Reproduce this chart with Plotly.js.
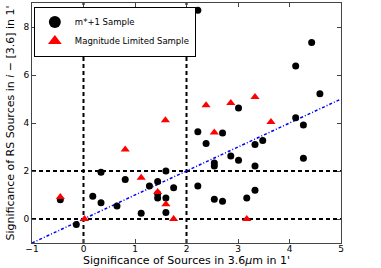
<!DOCTYPE html>
<html><head><meta charset="utf-8">
<script src="https://cdn.plot.ly/plotly-3.0.1.min.js"></script>
<style>html,body{margin:0;padding:0;background:#fff}#c{width:381px;height:268px}</style>
</head><body><div id="c"></div>
<script>
const circX = [-0.45,-0.14,0.18,0.34,0.34,0.65,0.81,1.12,1.28,1.44,1.44,1.44,1.6,1.6,1.6,1.75,2.22,2.22,2.22,2.38,2.54,2.54,2.54,2.7,2.7,2.86,3.01,3.01,3.17,3.33,3.33,3.33,3.48,4.12,4.12,4.27,4.27,4.43,4.59];
const circY = [0.8,-0.23,0.95,1.95,0.68,0.54,1.65,0.24,1.38,1.56,1.05,0.88,2.0,0.88,0.27,1.3,8.7,3.64,1.38,3.15,2.33,2.21,0.82,3.58,0.74,2.62,4.62,2.45,0.88,3.1,2.21,1.2,3.27,6.38,4.22,3.92,2.53,7.35,5.22];
const triX = [-0.45,0.02,0.81,1.12,1.44,1.59,1.6,1.75,2.38,2.54,2.86,3.17,3.33,3.64];
const triY = [0.92,0.0,2.9,1.72,1.13,4.11,0.61,0.0,4.74,3.6,4.83,0.0,5.08,4.04];
const oneToOneX = [-1,5];
const oneToOneY = [-1,5];
const cutX = [0,2];
const cutY = [0,2];
const xTicks = [-1,0,1,2,3,4,5];
const yTicks = [0,2,4,6,8];

const traces = [
  {x: oneToOneX, y: oneToOneY, mode:'lines', showlegend:false, hoverinfo:'skip',
   line:{color:'#0000ff', width:1.5, dash:'3px,2px,1px,2px'}},
  {x: circX, y: circY, mode:'markers', name:'m*+1 Sample',
   marker:{symbol:'circle', size:7, color:'#000'}},
  {x: triX, y: triY, mode:'markers', name:'Magnitude Limited Sample',
   marker:{symbol:'triangle-up', size:8, color:'#ff0000'}}
];
const shapes = [];
cutX.forEach(v => shapes.push({type:'line', xref:'x', yref:'paper', x0:v, x1:v, y0:0, y1:1, layer:'below',
  line:{color:'#000', width:2, dash:'4px,3px'}}));
cutY.forEach(v => shapes.push({type:'line', xref:'paper', yref:'y', x0:0, x1:1, y0:v, y1:v, layer:'below',
  line:{color:'#000', width:2, dash:'4px,3px'}}));

const ax = {showgrid:false, zeroline:false, showline:true, mirror:'ticks', linecolor:'#444', linewidth:1,
  ticks:'inside', ticklen:4, tickcolor:'#444', tickfont:{family:'DejaVu Sans', size:9, color:'#000'}};
const layout = {
  width:381, height:268, margin:{l:32, r:40, t:3, b:25},
  paper_bgcolor:'#fff', plot_bgcolor:'#fff',
  font:{family:'DejaVu Sans', color:'#000'},
  xaxis: Object.assign({}, ax, {range:[-1,5], tickvals:xTicks, ticklabelstandoff:-3,
    ticktext:xTicks.map(v=>v<0?'\u2212'+Math.abs(v):String(v)),
    title:{text:"Significance of Sources in 3.6<i>\u03bc</i>m in 1'", font:{size:11}, standoff:0}}),
  yaxis: Object.assign({}, ax, {range:[-1,9], tickvals:yTicks,
    title:{text:"Significance of RS Sources in <i>i</i> \u2212 [3.6] in 1'", font:{size:11}, standoff:6}}),
  shapes: shapes,
  showlegend:true,
  legend:{x:0.006, y:0.985, xanchor:'left', yanchor:'top', bgcolor:'#fff', bordercolor:'#000', borderwidth:1,
    font:{family:'DejaVu Sans', size:8.5}, tracegroupgap:0, itemwidth:30, itemsizing:'constant'}
};
Plotly.newPlot('c', traces, layout, {staticPlot:true, displayModeBar:false});
</script></body></html>
